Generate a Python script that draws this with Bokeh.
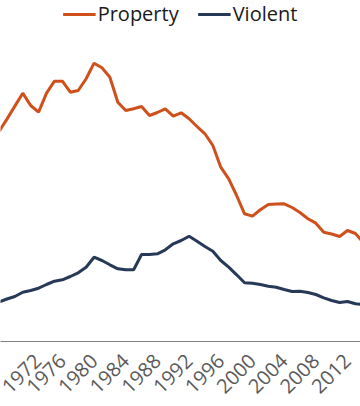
import math
from bokeh.plotting import figure
from bokeh.models import Range1d, FixedTicker, Legend, LegendItem
from bokeh.embed import file_html
from bokeh.resources import INLINE

years = list(range(1968, 2015))
property_rate = [5250, 5560, 5885, 6208, 5900, 5733, 6208, 6508, 6508, 6233,
                 6275, 6568, 6958, 6843, 6608, 5983, 5775, 5820, 5875, 5650,
                 5725, 5818, 5633, 5718, 5568, 5375, 5193, 4900, 4358, 4068,
                 3650, 3193, 3133, 3293, 3425, 3438, 3443, 3350, 3225, 3068,
                 2958, 2733, 2688, 2625, 2775, 2700, 2475]
violent_rate = [395, 425, 450, 493, 510, 533, 570, 603, 617, 650,
                687, 743, 843, 810, 767, 727, 717, 717, 870, 870,
                877, 917, 977, 1010, 1053, 1003, 950, 903, 810, 743,
                667, 587, 583, 570, 553, 543, 520, 500, 503, 490,
                470, 437, 410, 390, 400, 377, 370]
tick_years = [1972, 1976, 1980, 1984, 1988, 1992, 1996, 2000, 2004, 2008, 2012]
tick_labels = [str(y) for y in tick_years]
series_names = ["Property", "Violent"]

ORANGE = "#cf501b"
NAVY = "#263a58"
FONT = "Open Sans"

p = figure(width=360, height=406, output_backend="svg", toolbar_location=None,
           x_range=Range1d(1968.19, 2013.64), y_range=Range1d(0, 8525),
           min_border_left=0, min_border_right=0, min_border_top=0,
           min_border_bottom=65, outline_line_color=None)
p.extra_y_ranges = {"violent": Range1d(0, 3410)}

r1 = p.line(years, property_rate, line_color=ORANGE, line_width=3)
r2 = p.line(years, violent_rate, line_color=NAVY, line_width=3, y_range_name="violent")

p.yaxis.visible = False
p.xgrid.visible = False
p.ygrid.visible = False

ax = p.xaxis[0]
ax.ticker = FixedTicker(ticks=tick_years)
ax.major_label_overrides = dict(zip(tick_years, tick_labels))
ax.major_label_orientation = math.pi / 4
ax.major_label_text_font = FONT
ax.major_label_text_font_size = "20px"
ax.major_label_text_color = "#5a5a5a"
ax.major_label_standoff = 16
ax.major_tick_line_color = None
ax.minor_tick_line_color = None
ax.major_tick_out = 0
ax.major_tick_in = 0
ax.minor_tick_out = 0
ax.axis_line_color = "#808080"
ax.axis_line_width = 1

legend = Legend(items=[LegendItem(label=series_names[0], renderers=[r1]),
                       LegendItem(label=series_names[1], renderers=[r2])],
                location="top_center", orientation="horizontal",
                label_text_font=FONT, label_text_font_size="20px",
                label_text_color="#1a1a1a", glyph_width=33, glyph_height=20,
                label_standoff=2, spacing=19, padding=0, margin=0,
                border_line_color=None, background_fill_alpha=0)
p.add_layout(legend)

open("out.html", "w").write(file_html(p, INLINE))
